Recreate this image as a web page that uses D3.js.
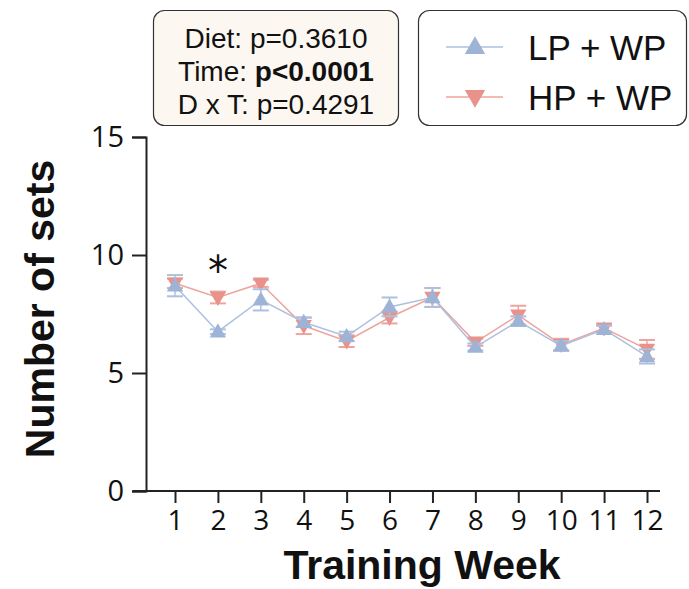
<!DOCTYPE html>
<html>
<head>
<meta charset="utf-8">
<script src="https://cdn.jsdelivr.net/npm/d3@7/dist/d3.min.js"></script>
<style>
  html, body { margin: 0; padding: 0; background: #fff; }
  svg { display: block; }
</style>
</head>
<body>
<svg id="chart" width="689" height="589"></svg>
<script>
// Weekly number of sets per diet group (mean ± SEM)
const weeks = [1, 2, 3, 4, 5, 6, 7, 8, 9, 10, 11, 12];
const lpMean = [8.7, 6.75, 8.1, 7.15, 6.55, 7.8, 8.2, 6.1, 7.2, 6.15, 6.85, 5.7];
const lpSem  = [0.45, 0.1, 0.45, 0.2, 0.2, 0.4, 0.4, 0.15, 0.2, 0.2, 0.15, 0.3];
const hpMean = [8.8, 8.2, 8.8, 7.0, 6.35, 7.35, 8.2, 6.3, 7.45, 6.2, 6.9, 6.0];
const hpSem  = [0.2, 0.25, 0.15, 0.35, 0.25, 0.25, 0.4, 0.15, 0.4, 0.25, 0.15, 0.4];
const yTicks = [0, 5, 10, 15];
const statLines = [
  { label: "Diet: ", value: "p=0.3610", bold: false },
  { label: "Time: ", value: "p<0.0001", bold: true },
  { label: "D x T: ", value: "p=0.4291", bold: false }
];
const legendNames = ["LP + WP", "HP + WP"];
const sigWeeks = [2];

const svg = d3.select("#chart");
const x = d3.scaleLinear().domain([1, 12]).range([175, 647]);
const y = d3.scaleLinear().domain([0, 15]).range([491, 137]);

const blue = "#9db4d7", blueLine = "#adc1df";
const red = "#e8928b", redLine = "#eda49e";
const tickFont = "'Open Sans', 'Noto Sans', sans-serif";
const textFont = "'Liberation Sans', Arial, sans-serif";

// y axis
const yAxis = svg.append("g").attr("transform", "translate(146,0)")
  .call(d3.axisLeft(y).tickValues(yTicks).tickSize(14).tickPadding(8));
yAxis.select(".domain").attr("stroke", "#222").attr("stroke-width", 2);
yAxis.selectAll(".tick line").attr("stroke", "#222").attr("stroke-width", 2);
yAxis.selectAll(".tick text").attr("font-family", tickFont)
  .attr("font-size", 29).attr("fill", "#111");

// x axis (line extends slightly left of the y axis)
const xAxis = svg.append("g").attr("transform", "translate(0,491)")
  .call(d3.axisBottom(x).tickValues(weeks).tickSize(12).tickPadding(7).tickSizeOuter(0));
xAxis.select(".domain").attr("d", "M133,0H660").attr("stroke", "#222").attr("stroke-width", 2);
xAxis.selectAll(".tick line").attr("stroke", "#222").attr("stroke-width", 2);
xAxis.selectAll(".tick text").attr("font-family", tickFont)
  .attr("font-size", 28).attr("fill", "#111");

// axis titles
svg.append("text").attr("transform", "translate(54,309) rotate(-90)")
  .attr("text-anchor", "middle").attr("font-family", textFont)
  .attr("font-weight", "bold").attr("font-size", 41).attr("fill", "#111").text("Number of sets");
svg.append("text").attr("x", 422).attr("y", 579)
  .attr("text-anchor", "middle").attr("font-family", textFont)
  .attr("font-weight", "bold").attr("font-size", 41).attr("fill", "#111").text("Training Week");

function drawSeries(mean, sem, color, lineColor, up) {
  const g = svg.append("g");
  const pts = weeks.map((w, i) => ({ w, m: mean[i], s: sem[i] }));
  g.append("path").datum(pts)
    .attr("d", d3.line().x(d => x(d.w)).y(d => y(d.m)))
    .attr("fill", "none").attr("stroke", lineColor).attr("stroke-width", 1.5);
  const eb = g.selectAll(".eb").data(pts).enter().append("g");
  eb.append("line").attr("x1", d => x(d.w)).attr("x2", d => x(d.w))
    .attr("y1", d => y(d.m + d.s)).attr("y2", d => y(d.m - d.s))
    .attr("stroke", lineColor).attr("stroke-width", 1.5);
  [1, -1].forEach(sgn => {
    eb.append("line").attr("x1", d => x(d.w) - 8).attr("x2", d => x(d.w) + 8)
      .attr("y1", d => y(d.m + sgn * d.s)).attr("y2", d => y(d.m + sgn * d.s))
      .attr("stroke", lineColor).attr("stroke-width", 2);
  });
  const tri = d3.symbol().type(d3.symbolTriangle).size(115);
  g.selectAll(".mk").data(pts).enter().append("path")
    .attr("d", tri)
    .attr("transform", d => `translate(${x(d.w)},${y(d.m) + (up ? 1 : -1)}) rotate(${up ? 0 : 180})`)
    .attr("fill", color);
}
drawSeries(hpMean, hpSem, red, redLine, false);
drawSeries(lpMean, lpSem, blue, blueLine, true);

// significance marker
svg.selectAll(".sig").data(sigWeeks).enter().append("text")
  .attr("x", d => x(d)).attr("y", 285).attr("text-anchor", "middle")
  .attr("font-family", "'DejaVu Sans', sans-serif").attr("font-size", 40)
  .attr("fill", "#111").text("*");

// statistics box
svg.append("rect").attr("x", 153.5).attr("y", 10.5).attr("width", 245).attr("height", 115)
  .attr("rx", 11).attr("fill", "#fcf7f1").attr("stroke", "#333").attr("stroke-width", 1.2);
const st = svg.append("text").attr("font-family", textFont)
  .attr("font-size", 28).attr("fill", "#111").attr("text-anchor", "middle");
statLines.forEach((s, i) => {
  const t = st.append("tspan").attr("x", 276).attr("y", 48 + i * 33);
  t.append("tspan").text(s.label);
  t.append("tspan").attr("font-weight", s.bold ? "bold" : "normal").text(s.value);
});

// legend box
svg.append("rect").attr("x", 418.5).attr("y", 10.5).attr("width", 268).attr("height", 115)
  .attr("rx", 11).attr("fill", "#fff").attr("stroke", "#333").attr("stroke-width", 1.2);
const legItems = [
  { name: legendNames[0], color: blue, line: blueLine, up: true, cy: 47 },
  { name: legendNames[1], color: red, line: redLine, up: false, cy: 97 }
];
legItems.forEach(it => {
  svg.append("line").attr("x1", 446).attr("x2", 503).attr("y1", it.cy).attr("y2", it.cy)
    .attr("stroke", it.line).attr("stroke-width", 1.5);
  svg.append("path").attr("d", d3.symbol().type(d3.symbolTriangle).size(180))
    .attr("transform", `translate(475,${it.cy + (it.up ? 1 : -1)}) rotate(${it.up ? 0 : 180})`)
    .attr("fill", it.color);
  svg.append("text").attr("x", 528).attr("y", it.cy + 13)
    .attr("font-family", textFont).attr("font-size", 35)
    .attr("fill", "#111").text(it.name);
});
</script>
</body>
</html>
